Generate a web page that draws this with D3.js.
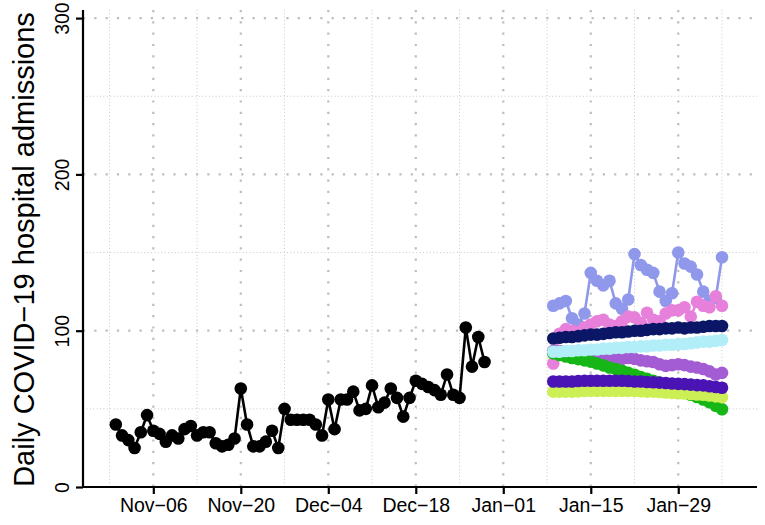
<!DOCTYPE html>
<html><head><meta charset="utf-8">
<script src="https://cdn.jsdelivr.net/npm/d3@7"></script>
<style>body{margin:0;background:#fff}svg{display:block}text{font-family:"Liberation Sans",Arial,Helvetica,sans-serif}</style>
</head><body><svg id="c" width="765" height="525"></svg>
<script>
// ---- data ----
const observedStart = "2020-10-31";
const observed = [40,33,30,25,35,46,36,34,29,33,31,37,39,33,35,35,28,26,27,31,63,40,26,26,29,36,25,50,43,43,43,43,40,33,56,37,56,56,61,49,50,65,51,54,63,57,45,57,68,66,64,62,59,72,59,57,102,77,96,80];

const forecastStart = "2021-01-09";
const fcPeriwinkle = [116,117.5,119,108,104,111,137,132,129,132,117.5,114,120,149,142,139,137,125,119,124,150,143,141,136,125,119,121,147];
const fcOrchid = [79,98,101,100,99,102,104,106,107,104,103,106,109,108.5,105,111.5,107,106,111,113,113,115,109,118.5,116,115,122,116];
const fcPurple = [87,87,86.5,86.5,86,86,86,85,84,83,82,82,82.5,82,81,80.5,80,78.5,77.5,78,78.5,78,77,76.5,75.5,74,72,73];
const fcGreen = [85.5,84.5,83.5,82.5,81.8,81,80.2,79,77.8,76.5,75.5,74.4,73,71.8,70.4,69.2,68,66.6,65,63.6,62,60.5,59,57.6,56,54.2,52,49.7];
const fcYellowGreen = [61,61,61,61,61.2,61.5,61.5,61.5,61.5,61.5,61.5,61.5,61.5,61.5,61.3,61,61,60.8,60.5,60.2,60,59.8,59.5,59.2,59,58.5,58,57.5];
const fcIndigo = [67.5,67.5,67.5,67.5,67.8,68,68,68,68,68,68,68,67.8,67.5,67.5,67.2,67,66.8,66.5,66.2,66,65.8,65.5,65.2,65,64.5,64,63.5];
const fcCyan = [86.5,86.5,87,87,87.5,87.5,88,88,88.5,88.5,89,89,89.5,89.5,90,90,90.5,90.5,91,91,91.5,91.5,92,92.5,93,93,93.5,94];
const fcNavy = [95,95.5,96,96,96.5,97,97.5,97.5,98,98.5,99,99,99.5,100,100,100.5,101,101,101.5,101.5,102,101.5,102,102,102.5,103,103,103];

const seriesNames = ["periwinkle","orchid","purple","green","yellowgreen","indigo","cyan","navy"];
const seriesColors = ["#8F98EA","#E680DA","#A35CD3","#17B617","#CCEF55","#4A13B4","#B2EEF8","#0B1766"];
const seriesValues = [fcPeriwinkle,fcOrchid,fcPurple,fcGreen,fcYellowGreen,fcIndigo,fcCyan,fcNavy];

const xTickDates = ["2020-11-06","2020-11-20","2020-12-04","2020-12-18","2021-01-01","2021-01-15","2021-01-29"];
const xTickLabels = ["Nov\u221206","Nov\u221220","Dec\u221204","Dec\u221218","Jan\u221201","Jan\u221215","Jan\u221229"];
const xMinorDates = ["2020-10-30","2020-11-13","2020-11-27","2020-12-11","2020-12-25","2021-01-08","2021-01-22","2021-02-05"];
const yTicks = [0,100,200,300];
const yTickLabels = ["0","100","200","300"];
const yMinor = [50,150,250];
const yTitle = "Daily COVID\u221219 hospital admissions";

// ---- helpers ----
const DAY = 864e5;
const parse = s => new Date(s + "T00:00:00Z");
const addDays = (s, n) => new Date(parse(s).getTime() + n * DAY);

const svg = d3.select("#c");
const pL = 83, pR = 757, pB = 487, pT = 10;

const x = d3.scaleUtc()
  .domain([addDays("2020-11-06", -11.25), addDays("2020-11-06", 96.6)])
  .range([pL, pR]);
const y = d3.scaleLinear().domain([0, 300]).range([pB, 18.1]);

// grid
const g = svg.append("g");
g.selectAll(".hmin").data(yMinor).join("line")
  .attr("x1", pL).attr("x2", pR).attr("y1", d => y(d)).attr("y2", d => y(d))
  .attr("stroke", "#c9c9c9").attr("stroke-width", 1).attr("stroke-dasharray", "1 2.4");
g.selectAll(".vmin").data(xMinorDates).join("line")
  .attr("x1", d => x(parse(d))).attr("x2", d => x(parse(d))).attr("y1", pT).attr("y2", pB)
  .attr("stroke", "#c9c9c9").attr("stroke-width", 1).attr("stroke-dasharray", "1 2.4");
g.selectAll(".hmaj").data(yTicks).join("line")
  .attr("x1", pL).attr("x2", pR).attr("y1", d => y(d)).attr("y2", d => y(d))
  .attr("stroke", "#bdbdbd").attr("stroke-width", 2.2).attr("stroke-dasharray", "2.2 9.1");
g.selectAll(".vmaj").data(xTickDates).join("line")
  .attr("x1", d => x(parse(d))).attr("x2", d => x(parse(d))).attr("y1", pT).attr("y2", pB)
  .attr("stroke", "#bdbdbd").attr("stroke-width", 2.2).attr("stroke-dasharray", "2.2 9.1");

// forecast series
const line = d3.line().x(d => x(d.date)).y(d => y(d.v));
seriesValues.forEach((vals, i) => {
  const data = vals.map((v, k) => ({ date: addDays(forecastStart, k), v }));
  const s = svg.append("g").attr("class", seriesNames[i]);
  s.append("path").datum(data).attr("d", line).attr("fill", "none")
    .attr("stroke", seriesColors[i]).attr("stroke-width", 2.6);
  s.selectAll("circle").data(data).join("circle")
    .attr("cx", d => x(d.date)).attr("cy", d => y(d.v)).attr("r", 6.3).attr("fill", seriesColors[i]);
});

// observed
const obs = observed.map((v, k) => ({ date: addDays(observedStart, k), v }));
svg.append("path").datum(obs).attr("d", line).attr("fill", "none")
  .attr("stroke", "#000").attr("stroke-width", 2.6);
svg.append("g").selectAll("circle").data(obs).join("circle")
  .attr("cx", d => x(d.date)).attr("cy", d => y(d.v)).attr("r", 6.3).attr("fill", "#000");

// axes
const xAxis = d3.axisBottom(x).tickValues(xTickDates.map(parse))
  .tickFormat((d, i) => xTickLabels[i]).tickSize(7).tickPadding(4);
const xa = svg.append("g").attr("transform", `translate(0,${pB})`).call(xAxis);
xa.select(".domain").attr("d", `M${pL},0H${pR}`).attr("stroke-width", 2.2);
xa.selectAll(".tick line").attr("stroke-width", 2.2);
xa.selectAll("text").attr("font-size", 19.5).attr("fill", "#000");

const yAxis = d3.axisLeft(y).tickValues(yTicks).tickFormat((d, i) => yTickLabels[i]).tickSize(7).tickPadding(0);
const ya = svg.append("g").attr("transform", `translate(${pL},0)`).call(yAxis);
ya.select(".domain").attr("d", `M0,${pB}V${pT}`).attr("stroke-width", 2.2);
ya.selectAll(".tick line").attr("stroke-width", 2.2);
ya.selectAll(".tick text").attr("font-size", 19.5).attr("fill", "#000")
  .attr("x", null).attr("dy", null)
  .attr("text-anchor", "middle")
  .attr("transform", "translate(-14,0) rotate(-90)");

svg.append("text").attr("transform", `translate(34,${(pB + 12) / 2 }) rotate(-90)`)
  .attr("text-anchor", "middle").attr("font-size", 29).attr("fill", "#000").text(yTitle);
</script></body></html>
